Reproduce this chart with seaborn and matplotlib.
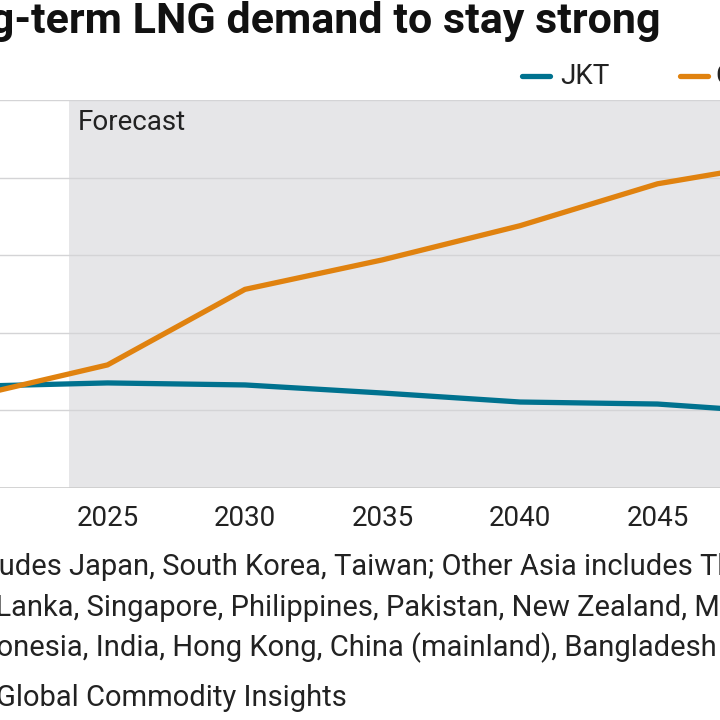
import matplotlib.pyplot as plt
import seaborn as sns
import pandas as pd

sns.set_style("white")
plt.rcParams['font.family'] = ['Roboto', 'DejaVu Sans']

years = [2020, 2025, 2030, 2035, 2040, 2045, 2050]
jkt = [65.5, 67.7, 66.4, 61.2, 55.4, 54.1, 48.0]
other_asia = [58.6, 79.3, 128.0, 147.0, 169.0, 196.0, 211.0]
forecast_start = 2023.6

df = pd.DataFrame({'year': years * 2,
                   'demand': jkt + other_asia,
                   'region': ['JKT'] * len(years) + ['Other Asia'] * len(years)})

fig = plt.figure(figsize=(7.2, 7.2), dpi=100)
ax = fig.add_axes([-30 / 720, 232 / 720, 825 / 720, 388 / 720])

ax.axvspan(forecast_start, 2050, color='#e6e6e8', zorder=0, lw=0)
for yv in [50, 100, 150, 200, 250]:
    ax.axhline(yv, color='#d4d4d6', lw=1, zorder=1)
ax.axhline(0, color='#cccccc', lw=1.2, zorder=1)

sns.lineplot(data=df, x='year', y='demand', hue='region', ax=ax,
             palette={'JKT': '#00728f', 'Other Asia': '#e0820f'},
             linewidth=3.8, legend=False, zorder=3)

ax.set_xlim(2020, 2050)
ax.set_ylim(0, 250)
ax.set_xticks([2020, 2025, 2030, 2035, 2040, 2045, 2050])
ax.tick_params(axis='x', labelsize=20, length=0, pad=12, labelcolor='#222222')
ax.set_yticks([])
ax.set_xlabel('')
ax.set_ylabel('')
sns.despine(ax=ax, left=True, bottom=True)

ax.text(2023.9, 244, 'Forecast', fontsize=20, va='top', color='#222222')

fig.text(-82 / 720, 1 - 22 / 720, 'Long-term LNG demand to stay strong',
         fontsize=31, fontweight='bold', va='center', color='#111111')

# legend
fig.lines.append(plt.Line2D([522 / 720, 550 / 720], [1 - 76 / 720] * 2,
                            color='#00728f', lw=3.8, transform=fig.transFigure))
fig.text(560 / 720, 1 - 76 / 720, 'JKT', fontsize=20, va='center', color='#222222')
fig.lines.append(plt.Line2D([680 / 720, 708 / 720], [1 - 76 / 720] * 2,
                            color='#e0820f', lw=3.8, transform=fig.transFigure))
fig.text(716 / 720, 1 - 76 / 720, 'Other Asia', fontsize=20, va='center', color='#222222')

notes = [(-106, 567, 'JKT includes Japan, South Korea, Taiwan; Other Asia includes Thailand, Sri'),
         (-46, 608, 'Sri Lanka, Singapore, Philippines, Pakistan, New Zealand, Malaysia,'),
         (-44, 648, 'Indonesia, India, Hong Kong, China (mainland), Bangladesh'),
         (-65, 698, 'S&P Global Commodity Insights')]
for x0, y0, txt in notes:
    fig.text(x0 / 720, 1 - y0 / 720, txt, fontsize=21, va='center', color='#222222')

fig.savefig('out.png', dpi=100)
